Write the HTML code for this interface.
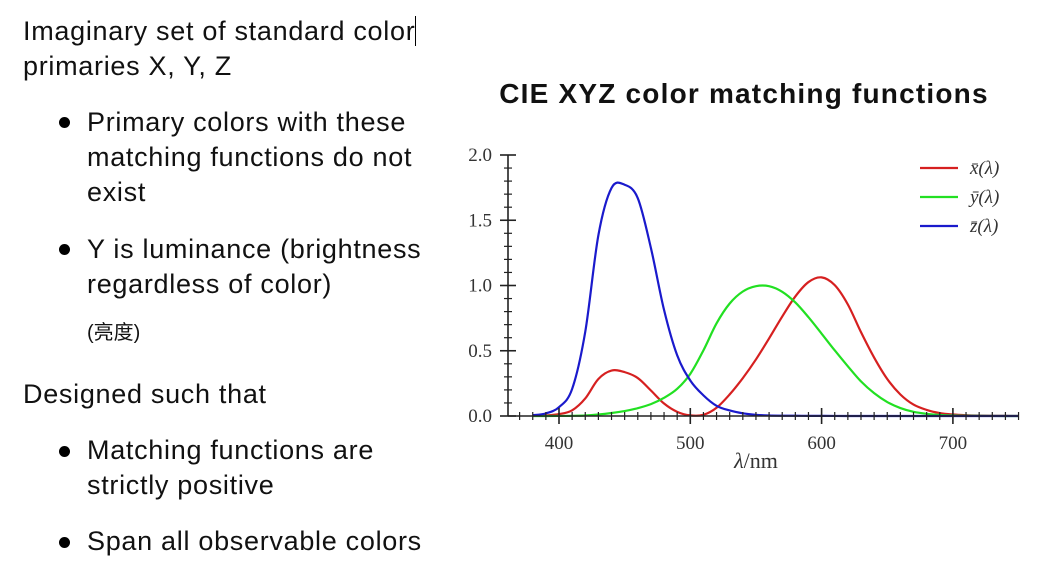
<!DOCTYPE html>
<html><head><meta charset="utf-8">
<style>
body{margin:0;width:1055px;height:567px;background:#fff;overflow:hidden;position:relative;font-family:"Liberation Sans","Noto Sans CJK SC",sans-serif;color:#111;}
.t{position:absolute;font-size:27px;line-height:35px;white-space:nowrap;letter-spacing:0.7px;}
.dot{position:absolute;width:11px;height:11px;border-radius:50%;background:#000;}
</style></head><body>
<div class="t" style="left:23px;top:14px;">Imaginary set of standard color<span style="border-right:1.5px solid #000"></span><br>primaries X, Y, Z</div>
<div class="dot" style="left:59px;top:117px"></div>
<div class="t" style="left:87px;top:105px;">Primary colors with these<br>matching functions do not<br>exist</div>
<div class="dot" style="left:59px;top:244px"></div>
<div class="t" style="left:87px;top:232px;">Y is luminance (brightness<br>regardless of color)</div>
<div class="t" style="left:87px;top:316px;font-size:20px;letter-spacing:0">(亮度)</div>
<div class="t" style="left:23px;top:377px;">Designed such that</div>
<div class="dot" style="left:59px;top:446px"></div>
<div class="t" style="left:87px;top:433px;">Matching functions are<br>strictly positive</div>
<div class="dot" style="left:59px;top:537px"></div>
<div class="t" style="left:87px;top:524px;">Span all observable colors</div>

<svg id="chart" width="1055" height="567" style="position:absolute;left:0;top:0">
<text x="744" y="103" text-anchor="middle" font-family="Liberation Sans" font-weight="bold" font-size="28" letter-spacing="1.2" fill="#111">CIE XYZ color matching functions</text>
</svg>
<script>
const wavelengths=[380,390,400,410,420,430,440,450,460,470,480,490,500,510,520,530,540,550,560,570,580,590,600,610,620,630,640,650,660,670,680,690,700,710,720,730,740,750];
const xbar=[.0014,.0042,.0143,.0435,.1344,.2839,.3483,.3362,.2908,.1954,.0956,.0320,.0049,.0093,.0633,.1655,.2904,.4334,.5945,.7621,.9163,1.0263,1.0622,1.0026,.8544,.6424,.4479,.2835,.1649,.0874,.0468,.0227,.0114,.0058,.0029,.0014,.0007,.0003];
const ybar=[0,.0001,.0004,.0012,.0040,.0116,.0230,.0380,.0600,.0910,.1390,.2080,.3230,.5030,.7100,.8620,.9540,.9950,.9950,.9520,.8700,.7570,.6310,.5030,.3810,.2650,.1750,.1070,.0610,.0320,.0170,.0082,.0041,.0021,.0010,.0005,.0002,.0001];
const zbar=[.0065,.0201,.0679,.2074,.6456,1.3856,1.7471,1.7721,1.6692,1.2876,.8130,.4652,.2720,.1582,.0782,.0422,.0203,.0087,.0039,.0021,.0017,.0011,.0008,.0003,.0002,0,0,0,0,0,0,0,0,0,0,0,0,0];
const xTicks=[400,500,600,700];
const yTicks=[0.0,0.5,1.0,1.5,2.0];
const seriesNames=["x̄(λ)","ȳ(λ)","z̄(λ)"];
const seriesColors=["#d62020","#22e022","#1a1acc"];
const NS="http://www.w3.org/2000/svg";
const svg=document.getElementById('chart');
const X=v=>559+(v-400)*1.313;
const Y=v=>416-v*130.5;
function mk(t,a){const e=document.createElementNS(NS,t);for(const k in a)e.setAttribute(k,a[k]);svg.appendChild(e);return e;}
[xbar,ybar,zbar].forEach((s,si)=>{
  const p=wavelengths.map((w,i)=>[X(w),Y(s[i])]);
  let d="M"+p[0][0]+","+p[0][1];
  for(let i=0;i<p.length-1;i++){
    const p0=p[Math.max(i-1,0)],p1=p[i],p2=p[i+1],p3=p[Math.min(i+2,p.length-1)];
    d+=" C"+(p1[0]+(p2[0]-p0[0])/6)+","+(p1[1]+(p2[1]-p0[1])/6)+" "+(p2[0]-(p3[0]-p1[0])/6)+","+(p2[1]-(p3[1]-p1[1])/6)+" "+p2[0]+","+p2[1];
  }
  const e=mk('path',{d:d,fill:'none',stroke:seriesColors[si],'stroke-width':2.2});
  
  
});
const ax=mk('line',{x1:508,x2:1019,y1:Y(0),y2:Y(0),stroke:'#222','stroke-width':1.6});


const ay=mk('line',{x1:508,x2:508,y1:Y(0),y2:Y(2),stroke:'#222','stroke-width':1.6});


for(let w=370;w<=750;w+=10){const maj=w%100===0;mk('line',{x1:X(w),x2:X(w),y1:Y(0)-(maj?8:4),y2:Y(0)+(maj?8:4),stroke:'#222','stroke-width':maj?1.6:1.2});}
for(let k=0;k<=20;k++){const v=k/10,maj=k%5===0;mk('line',{x1:508-(maj?8:4),x2:508+(maj?8:4),y1:Y(v),y2:Y(v),stroke:'#222','stroke-width':maj?1.6:1.2});}
xTicks.forEach(t=>{const e=mk('text',{x:X(t),y:449,'text-anchor':'middle','font-family':'Liberation Serif','font-size':19,fill:'#333'});e.textContent=t;

});
yTicks.forEach(t=>{const e=mk('text',{x:492,y:Y(t)+6,'text-anchor':'end','font-family':'Liberation Serif','font-size':19,fill:'#333'});e.textContent=t.toFixed(1);

});
const xl=mk('text',{x:756,y:468,'text-anchor':'middle','font-family':'Liberation Serif','font-size':22,fill:'#333'});xl.innerHTML='<tspan font-style="italic">λ</tspan>/nm';


seriesNames.forEach((n,i)=>{
  const y=168+i*29;
  const l=mk('line',{x1:920,x2:958,y1:y,y2:y,stroke:seriesColors[i],'stroke-width':2.2});
  
  
  const t=mk('text',{x:970,y:y+6,'font-family':'Liberation Serif','font-style':'italic','font-size':19,fill:'#333'});t.textContent=n;
  
  
});
</script>
</body></html>
